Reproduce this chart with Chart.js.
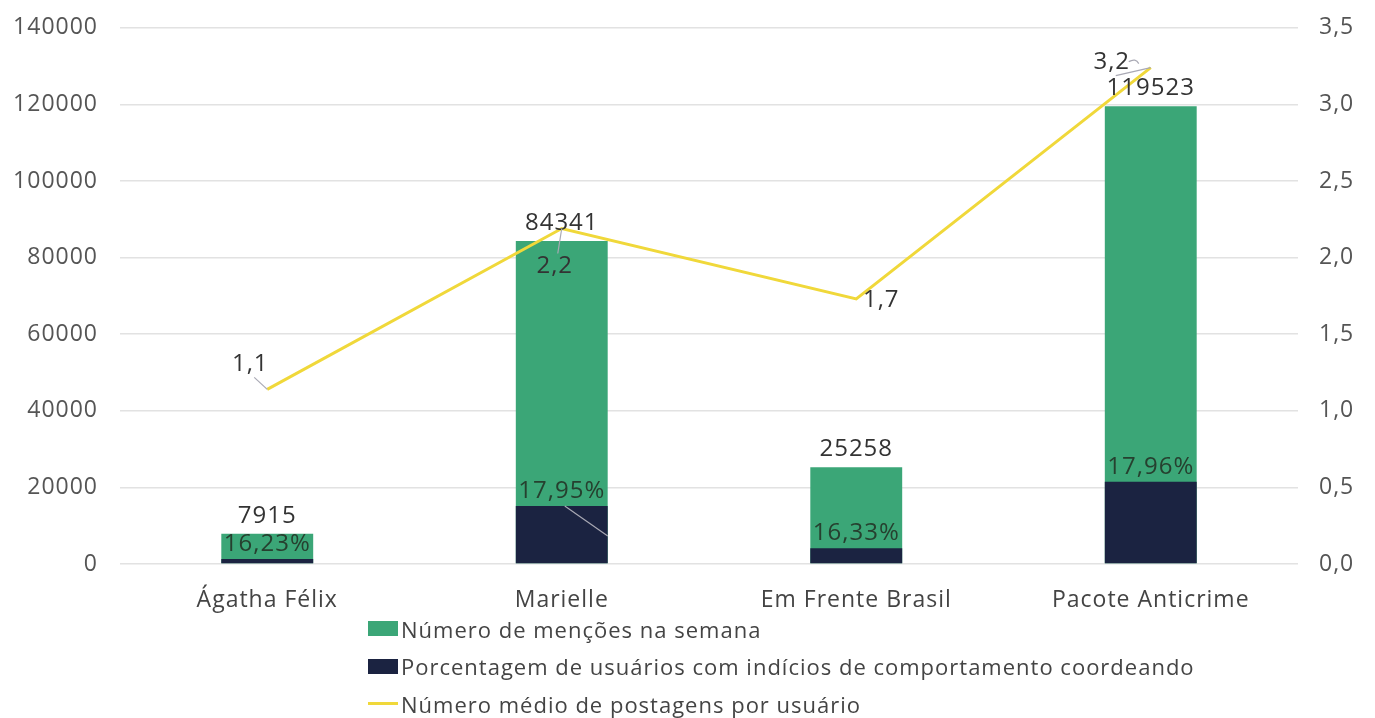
<!DOCTYPE html>
<html>
<head>
<meta charset="utf-8">
<script src="https://cdn.jsdelivr.net/npm/chart.js@4.4.1/dist/chart.umd.min.js"></script>
<style>
  html, body { margin: 0; padding: 0; background: #fff; overflow: hidden; }
  #wrap { position: relative; width: 1375px; height: 718px; overflow: hidden; }
  #chart { position: absolute; left: 0; top: -8px; }
  #legend { position: absolute; left: 368px; top: 610px; font: 22px "Open Sans", sans-serif; letter-spacing: 1px; color: #444; }
  #legend div { height: 37.5px; display: flex; align-items: center; }
  #legend span.mk { display: inline-block; width: 30px; margin-right: 3px; }
</style>
</head>
<body>
<div id="wrap">
  <canvas id="chart" width="1375" height="726"></canvas>
  <div id="legend"></div>
</div>
<script>
// categories and values
const categories = ["Ágatha Félix", "Marielle", "Em Frente Brasil", "Pacote Anticrime"];
const mentions = [7915, 84341, 25258, 119523];
const coordinatedUsers = [1285, 15139, 4125, 21466];
const coordinatedPct = [16.23, 17.95, 16.33, 17.96];
const avgPosts = [1.14, 2.19, 1.73, 3.24];
const seriesNames = [
  "Número de menções na semana",
  "Porcentagem de usuários com indícios de comportamento coordeando",
  "Número médio de postagens por usuário",
];

const GREEN = "#3ba677", NAVY = "#1b2341", YELLOW = "#f0d83a";
const FONT = '"Open Sans", sans-serif';
const comma = (v, d) => v.toFixed(d).replace(".", ",");

// label offsets for the line values (style only)
const lineLabelOffsets = [[-17, -25], [-7, 38], [25, 1], [-39, -5]];

// the source font is wide, so space the letters a bit
const spacing = {
  id: "spacing",
  beforeUpdate(chart) { chart.ctx.letterSpacing = "1px"; },
  beforeDraw(chart) { chart.ctx.letterSpacing = "1px"; },
};

const labelPlugin = {
  id: "valueLabels",
  afterDatasetsDraw(chart) {
    const ctx = chart.ctx;
    const greenBars = chart.getDatasetMeta(0).data;
    const navyBars = chart.getDatasetMeta(1).data;
    const points = chart.getDatasetMeta(2).data;
    ctx.save();
    ctx.letterSpacing = "1px";
    ctx.font = "24px " + FONT;
    ctx.textAlign = "center";
    ctx.textBaseline = "middle";

    greenBars.forEach((bar, i) => {
      ctx.fillStyle = "#333";
      ctx.fillText(String(mentions[i]), bar.x, bar.y - 18);
    });
    navyBars.forEach((bar, i) => {
      ctx.fillStyle = "#26402f";
      ctx.fillText(comma(coordinatedPct[i], 2) + "%", bar.x, bar.y - 15);
    });

    // leader lines
    ctx.strokeStyle = "#a9a9b4";
    ctx.lineWidth = 1.2;
    points.forEach((p, i) => {
      const [dx, dy] = lineLabelOffsets[i];
      if (Math.hypot(dx, dy) < 30) return;
      const lx = p.x + dx, ly = p.y + dy;
      ctx.beginPath();
      if (dy < 0) ctx.moveTo(lx + 4, ly + 13);
      else ctx.moveTo(lx + 3, ly - 13);
      ctx.lineTo(p.x, p.y);
      ctx.stroke();
    });
    // small curl next to the last value label
    const last = points[3];
    ctx.beginPath();
    ctx.moveTo(last.x - 22, last.y - 6);
    ctx.quadraticCurveTo(last.x - 15, last.y - 10, last.x - 12, last.y - 4);
    ctx.stroke();
    // stray leader on the Marielle percentage
    const nb = navyBars[1];
    ctx.beginPath();
    ctx.moveTo(nb.x + 3, nb.y);
    ctx.lineTo(nb.x + 46, nb.y + 30);
    ctx.stroke();

    ctx.fillStyle = "#333";
    points.forEach((p, i) => {
      const [dx, dy] = lineLabelOffsets[i];
      ctx.fillText(comma(avgPosts[i], 1), p.x + dx, p.y + dy);
    });
    ctx.restore();
  },
};

const chart = new Chart(document.getElementById("chart").getContext("2d"), {
  type: "bar",
  data: {
    labels: categories,
    datasets: [
      { label: seriesNames[0], data: mentions, backgroundColor: GREEN, yAxisID: "y", order: 3,
        categoryPercentage: 1, barPercentage: 0.312 },
      { label: seriesNames[1], data: coordinatedUsers, backgroundColor: NAVY, yAxisID: "y", order: 2,
        categoryPercentage: 1, barPercentage: 0.312 },
      { label: seriesNames[2], type: "line", data: avgPosts, yAxisID: "y1", order: 1,
        borderColor: YELLOW, borderWidth: 3, pointRadius: 0, tension: 0, fill: false },
    ],
  },
  options: {
    responsive: false, animation: false,
    layout: { padding: { top: 8, bottom: 104, left: 0, right: 0 } },
    plugins: { legend: { display: false }, tooltip: { enabled: false } },
    scales: {
      x: {
        stacked: true,
        grid: { display: false }, border: { display: false },
        ticks: { color: "#444", padding: 15, font: { family: FONT, size: 23 } },
        afterFit: (s) => { s.height = 50; },
      },
      y: {
        position: "left", stacked: false, min: 0, max: 140000,
        grid: { color: "#e2e2e2", lineWidth: 1.5, drawTicks: false }, border: { display: false },
        ticks: { stepSize: 20000, color: "#555", padding: 22, font: { family: FONT, size: 23 },
          callback: (v) => String(v) },
        afterFit: (s) => { s.width = 120; },
      },
      y1: {
        position: "right", min: 0, max: 3.5,
        grid: { display: false }, border: { display: false },
        ticks: { stepSize: 0.5, color: "#555", padding: 13, font: { family: FONT, size: 23 },
          callback: (v) => comma(v, 1) },
        afterFit: (s) => { s.width = 77; },
      },
    },
  },
  plugins: [spacing, labelPlugin],
});

// legend, one series per row
const legend = document.getElementById("legend");
chart.data.datasets.forEach((ds) => {
  const row = document.createElement("div");
  const mk = document.createElement("span");
  mk.className = "mk";
  if (ds.type === "line") { mk.style.height = "3px"; mk.style.background = ds.borderColor; }
  else { mk.style.height = "15px"; mk.style.background = ds.backgroundColor; }
  row.appendChild(mk);
  row.appendChild(document.createTextNode(ds.label));
  legend.appendChild(row);
});
</script>
</body>
</html>
